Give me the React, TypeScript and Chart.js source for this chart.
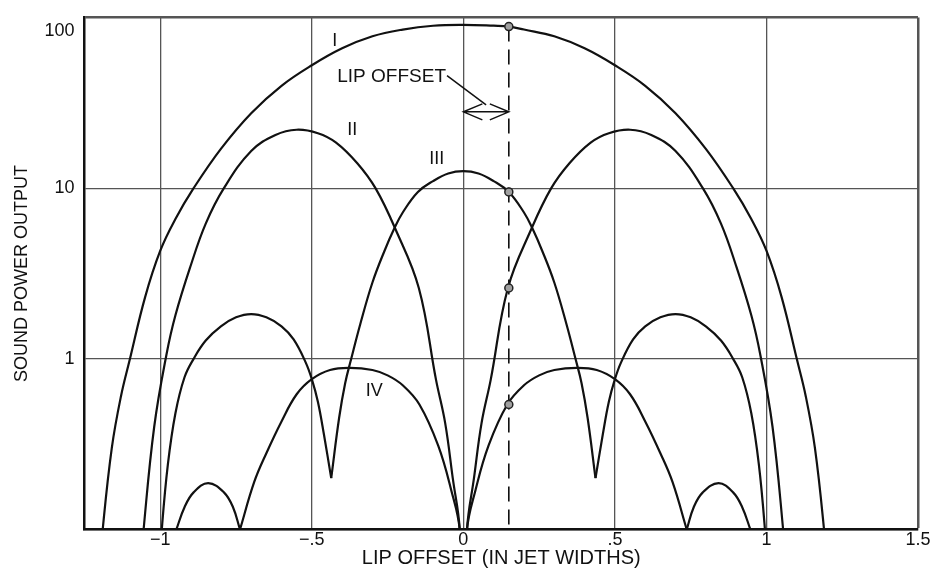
import React, { useEffect, useRef } from 'react';
import { Chart, registerables } from 'chart.js';

Chart.register(...registerables);

const FONT = "'Liberation Sans', Arial, Helvetica, sans-serif";

// Axes
const X_MIN = -1.25;
const X_MAX = 1.5;
const Y_MIN = 0.1;
const Y_MAX = 100;
const xTickValues = [-1, -0.5, 0, 0.5, 1, 1.5];
const xTickLabels = ['\u22121', '\u2212.5', '0', '.5', '1', '1.5'];
const yTickValues = [0.1, 1, 10, 100];
const yTickLabels: (string | string[])[] = ['', '1', '10', ['', '100']];
const xTitle = 'LIP OFFSET (IN JET WIDTHS)';
const yTitle = 'SOUND POWER OUTPUT';

// Curve I (fundamental)
const curveIX = [-1.22, -1.19, -1.16, -1.13, -1.1, -1.05, -1.0, -0.95, -0.89, -0.8, -0.7, -0.6, -0.5, -0.4, -0.3, -0.2, -0.1, 0, 0.1, 0.15, 0.2, 0.3, 0.4, 0.5, 0.6, 0.7, 0.8, 0.89, 0.95, 1.0, 1.05, 1.1, 1.13, 1.16, 1.19, 1.22];
const curveIY = [0.025, 0.1, 0.3, 0.6, 1.0, 2.3, 4.3, 6.6, 10, 17, 27.5, 39.8, 52.5, 66, 77.6, 85, 89.5, 90.5, 89.5, 88.5, 85, 77.6, 66, 52.5, 39.8, 27.5, 17, 10, 6.6, 4.3, 2.3, 1.0, 0.6, 0.3, 0.1, 0.025];
const curveIBreaks: number[] = [];

// Curve II
const curveIIX = [-1.08, -1.055, -1.02, -0.98, -0.95, -0.9, -0.85, -0.79, -0.7, -0.62, -0.55, -0.48, -0.42, -0.35, -0.29, -0.225, -0.147, -0.09, -0.06, -0.035, -0.012, 0, 0.012, 0.035, 0.06, 0.09, 0.147, 0.225, 0.29, 0.35, 0.42, 0.48, 0.55, 0.62, 0.7, 0.79, 0.85, 0.9, 0.95, 0.98, 1.02, 1.055, 1.08];
const curveIIY = [0.03, 0.1, 0.4, 1.05, 1.8, 3.5, 6.2, 10, 16.5, 20.5, 22, 21, 18.5, 14, 10, 5.8, 2.6, 0.75, 0.42, 0.2, 0.1, 0.02, 0.1, 0.2, 0.42, 0.75, 2.6, 5.8, 10, 14, 18.5, 21, 22, 20.5, 16.5, 10, 6.2, 3.5, 1.8, 1.05, 0.4, 0.1, 0.03];
const curveIIBreaks = [0];

// Curve III
const curveIIIX = [-1.01, -0.995, -0.975, -0.95, -0.92, -0.89, -0.85, -0.8, -0.75, -0.7, -0.65, -0.6, -0.56, -0.52, -0.5, -0.48, -0.46, -0.436, -0.41, -0.39, -0.37, -0.34, -0.3, -0.26, -0.228, -0.2, -0.15, -0.1, -0.05, 0, 0.05, 0.1, 0.15, 0.2, 0.228, 0.26, 0.3, 0.34, 0.37, 0.39, 0.41, 0.436, 0.46, 0.48, 0.5, 0.52, 0.56, 0.6, 0.65, 0.7, 0.75, 0.8, 0.85, 0.89, 0.92, 0.95, 0.975, 0.995, 1.01];
const curveIIIY = [0.04, 0.1, 0.24, 0.48, 0.78, 1.0, 1.28, 1.55, 1.75, 1.83, 1.75, 1.55, 1.3, 0.95, 0.76, 0.56, 0.36, 0.2, 0.45, 0.72, 1.0, 1.6, 2.8, 4.3, 5.8, 7.2, 9.5, 11, 12.2, 12.6, 12.2, 11, 9.5, 7.2, 5.8, 4.3, 2.8, 1.6, 1.0, 0.72, 0.45, 0.2, 0.36, 0.56, 0.76, 0.95, 1.3, 1.55, 1.75, 1.83, 1.75, 1.55, 1.28, 1.0, 0.78, 0.48, 0.24, 0.1, 0.04];
const curveIIIBreaks = [-0.436, 0.436];

// Curve IV
const curveIVX = [-0.947, -0.92, -0.89, -0.842, -0.79, -0.76, -0.737, -0.69, -0.65, -0.6, -0.55, -0.5, -0.44, -0.375, -0.3, -0.25, -0.2, -0.145, -0.083, -0.04, -0.012, 0, 0.012, 0.04, 0.083, 0.145, 0.2, 0.25, 0.3, 0.375, 0.44, 0.5, 0.55, 0.6, 0.65, 0.69, 0.737, 0.76, 0.79, 0.842, 0.89, 0.92, 0.947];
const curveIVY = [0.1, 0.135, 0.165, 0.187, 0.165, 0.135, 0.1, 0.19, 0.28, 0.43, 0.62, 0.76, 0.86, 0.885, 0.86, 0.8, 0.7, 0.54, 0.31, 0.17, 0.1, 0.03, 0.1, 0.17, 0.31, 0.54, 0.7, 0.8, 0.86, 0.885, 0.86, 0.76, 0.62, 0.43, 0.28, 0.19, 0.1, 0.135, 0.165, 0.187, 0.165, 0.135, 0.1];
const curveIVBreaks = [-0.737, 0, 0.737];

// Markers where the lip-offset line meets the curves
const markerX = [0.15, 0.15, 0.15, 0.15];
const markerY = [88.5, 9.5, 2.6, 0.54];
const offsetLineX = [0.15, 0.15];
const offsetLineY = [88.5, 0.1];

// Annotations
const curveLabels = ['I', 'II', 'III', 'IV'];
const curveLabelX = [-0.424, -0.367, -0.0875, -0.294];
const curveLabelY = [73, 21.8, 14.8, 0.645];
const offsetText = 'LIP OFFSET';
const offsetTextX = -0.416;
const offsetTextY = 45;
const offsetArrowFrom = 0;
const offsetArrowTo = 0.15;
const offsetArrowY = 28;

const INK = '#111';

function splitSegments(xs: number[], ys: number[], breaks: number[]) {
  const segs: { x: number; y: number }[][] = [];
  let cur: { x: number; y: number }[] = [];
  xs.forEach((xv, i) => {
    const p = { x: xv, y: ys[i] };
    cur.push(p);
    if (breaks.includes(xv)) {
      segs.push(cur);
      cur = [p];
    }
  });
  if (cur.length > 1) segs.push(cur);
  return segs;
}

const annotationPlugin = {
  id: 'lipAnnotations',
  afterDatasetsDraw(chart: any) {
    const { ctx } = chart;
    const x = chart.scales.x;
    const y = chart.scales.y;
    ctx.save();
    ctx.fillStyle = INK;
    ctx.strokeStyle = INK;
    ctx.font = `18px ${FONT}`;
    ctx.textAlign = 'center';
    ctx.textBaseline = 'middle';
    curveLabels.forEach((t, i) => {
      ctx.fillText(t, x.getPixelForValue(curveLabelX[i]), y.getPixelForValue(curveLabelY[i]));
    });
    ctx.font = `19px ${FONT}`;
    ctx.textAlign = 'left';
    const tx = x.getPixelForValue(offsetTextX);
    const ty = y.getPixelForValue(offsetTextY);
    ctx.fillText(offsetText, tx, ty);
    const tw = ctx.measureText(offsetText).width;
    const ax0 = x.getPixelForValue(offsetArrowFrom);
    const ax1 = x.getPixelForValue(offsetArrowTo);
    const ay = y.getPixelForValue(offsetArrowY);
    const mid = (ax0 + ax1) / 2;
    ctx.lineWidth = 1.5;
    ctx.beginPath();
    ctx.moveTo(tx + tw + 1, ty - 1);
    ctx.lineTo(mid, ay - 7);
    ctx.stroke();
    const hl = 19;
    const hw = 8;
    ctx.beginPath();
    ctx.moveTo(ax0, ay);
    ctx.lineTo(ax1, ay);
    ctx.moveTo(ax0 + hl, ay - hw);
    ctx.lineTo(ax0, ay);
    ctx.lineTo(ax0 + hl, ay + hw);
    ctx.moveTo(ax1 - hl, ay - hw);
    ctx.lineTo(ax1, ay);
    ctx.lineTo(ax1 - hl, ay + hw);
    ctx.stroke();
    ctx.restore();
  },
};

export default function App() {
  const canvasRef = useRef<HTMLCanvasElement | null>(null);

  useEffect(() => {
    if (!canvasRef.current) return;
    Chart.defaults.font.family = FONT;
    Chart.defaults.color = INK;

    const curveStyle = {
      borderColor: INK,
      borderWidth: 2.2,
      pointRadius: 0,
      fill: false,
      tension: 0.4,
    };

    const curves = [
      splitSegments(curveIX, curveIY, curveIBreaks),
      splitSegments(curveIIX, curveIIY, curveIIBreaks),
      splitSegments(curveIIIX, curveIIIY, curveIIIBreaks),
      splitSegments(curveIVX, curveIVY, curveIVBreaks),
    ];

    const datasets: any[] = [
      {
        label: 'markers',
        data: markerX.map((v, i) => ({ x: v, y: markerY[i] })),
        showLine: false,
        pointRadius: 4,
        pointBackgroundColor: '#a0a0a0',
        pointBorderColor: '#222',
        pointBorderWidth: 1.5,
      },
      {
        label: 'lip offset',
        data: offsetLineX.map((v, i) => ({ x: v, y: offsetLineY[i] })),
        borderColor: INK,
        borderWidth: 1.6,
        borderDash: [15, 8],
        pointRadius: 0,
        tension: 0,
      },
    ];
    curves.forEach((segs, ci) => {
      segs.forEach((seg, si) => {
        datasets.push({ label: `${curveLabels[ci]}-${si}`, data: seg, ...curveStyle });
      });
    });

    const chart = new Chart(canvasRef.current, {
      type: 'line',
      data: { datasets },
      plugins: [annotationPlugin],
      options: {
        animation: false,
        responsive: true,
        maintainAspectRatio: false,
        devicePixelRatio: 1,
        layout: { padding: { top: 17.5, right: 17, bottom: 0, left: 0 } },
        plugins: { legend: { display: false }, tooltip: { enabled: false } },
        scales: {
          x: {
            type: 'linear',
            min: X_MIN,
            max: X_MAX,
            afterBuildTicks: (scale: any) => {
              scale.ticks = xTickValues.map((v) => ({ value: v }));
            },
            afterFit: (scale: any) => {
              scale.height = 46.5;
            },
            ticks: {
              autoSkip: false,
              maxRotation: 0,
              padding: 0,
              color: INK,
              font: { size: 18, family: FONT },
              callback: (_v: any, i: number) => xTickLabels[i],
            },
            grid: {
              drawTicks: false,
              color: '#555',
              lineWidth: (c: any) => (c.tick && c.tick.value === X_MAX ? 2.5 : 1.3),
            },
            border: { display: true, color: INK, width: 2.5 },
            title: {
              display: true,
              text: xTitle,
              color: INK,
              font: { size: 20, family: FONT },
              padding: { top: 0, bottom: 6 },
            },
          },
          y: {
            type: 'logarithmic',
            min: Y_MIN,
            max: Y_MAX,
            afterBuildTicks: (scale: any) => {
              scale.ticks = yTickValues.map((v) => ({ value: v }));
            },
            afterFit: (scale: any) => {
              scale.width = 84.5;
              scale.paddingTop = 0;
              scale.paddingBottom = 0;
            },
            ticks: {
              autoSkip: false,
              padding: 10,
              color: INK,
              font: (c: any) => ({
                size: 18,
                family: FONT,
                lineHeight: c.tick && c.tick.value === Y_MAX ? 1.45 : 1.2,
              }),
              callback: (_v: any, i: number) => yTickLabels[i],
            },
            grid: {
              drawTicks: false,
              color: '#555',
              lineWidth: (c: any) => (c.tick && c.tick.value === Y_MAX ? 2.5 : 1.3),
            },
            border: { display: true, color: INK, width: 2.5 },
            title: {
              display: true,
              text: yTitle,
              color: INK,
              font: { size: 18, family: FONT },
              padding: { top: 11, bottom: 0 },
            },
          },
        },
      },
    });

    return () => chart.destroy();
  }, []);

  return (
    <div style={{ position: 'fixed', left: 0, top: 0, width: 935, height: 576, background: '#fff' }}>
      <canvas ref={canvasRef} />
    </div>
  );
}
